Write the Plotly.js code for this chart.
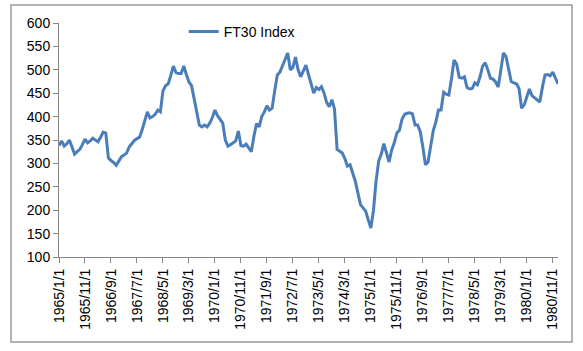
<!DOCTYPE html>
<html>
<head>
<meta charset="utf-8">
<script src="https://cdn.plot.ly/plotly-3.0.1.min.js"></script>
<style>html,body{margin:0;padding:0;background:#fff;}#chart{width:583px;height:351px;}</style>
</head>
<body>
<div id="chart"></div>
<script>
// Monthly FT30 Index values, 1965/1 .. 1981/1
const seriesName = "FT30 Index";
const values = [
  338,348,337,342,350,334,320,325,330,340,
  352,344,348,354,350,346,356,367,365,312,
  306,302,296,306,314,318,322,335,342,349,
  353,356,372,392,410,397,400,405,414,410,
  455,466,470,488,508,494,492,492,508,490,
  474,466,436,405,382,378,382,378,386,398,
  414,402,395,386,350,337,340,344,348,369,
  338,337,341,333,325,358,385,378,400,410,
  423,414,418,455,489,495,508,520,536,500,
  505,527,500,485,496,510,490,470,450,462,
  458,464,450,430,421,436,416,330,325,322,
  310,294,297,278,262,237,212,205,198,179,
  162,200,262,305,320,342,324,303,329,344,
  365,371,395,405,407,408,406,382,382,368,
  335,297,303,335,370,388,414,414,452,448,
  446,480,521,512,484,482,485,462,459,460,
  472,468,485,508,515,500,482,480,474,463,
  505,536,528,500,475,472,470,460,418,425,
  440,459,445,440,434,431,463,489,490,487,
  495,484,470
];
const startYear = 1965, startMonth = 1;
const tickLabels = ["1965/1/1","1965/11/1","1966/9/1","1967/7/1","1968/5/1","1969/3/1",
  "1970/1/1","1970/11/1","1971/9/1","1972/7/1","1973/5/1","1974/3/1","1975/1/1",
  "1975/11/1","1976/9/1","1977/7/1","1978/5/1","1979/3/1","1980/1/1","1980/11/1"];

const categories = values.map((v, i) => {
  const m = startMonth - 1 + i;
  return (startYear + Math.floor(m / 12)) + "/" + (m % 12 + 1) + "/1";
});

const font = {family: "Liberation Sans, Arial, sans-serif", size: 14, color: "#000"};
const axisGray = "#868686";

Plotly.newPlot("chart", [{
  type: "scatter", mode: "lines", name: seriesName,
  x: categories, y: values,
  line: {color: "#4a7ebb", width: 3},
  showlegend: true
}], {
  width: 583, height: 351,
  margin: {l: 59, r: 25, t: 23, b: 94},
  paper_bgcolor: "#fff", plot_bgcolor: "#fff",
  font: font,
  xaxis: {
    type: "category", range: [0, values.length - 1],
    tickmode: "array", tickvals: tickLabels, ticktext: tickLabels,
    tickangle: -90, ticks: "outside", ticklen: 5, tickcolor: axisGray,
    showline: true, linecolor: axisGray, linewidth: 1,
    showgrid: false, zeroline: false, tickfont: font
  },
  yaxis: {
    range: [100, 600], dtick: 50, tick0: 100,
    ticks: "outside", ticklen: 5, tickcolor: axisGray,
    showline: true, linecolor: axisGray, linewidth: 1,
    showgrid: false, zeroline: false, tickfont: font
  },
  legend: {x: 0.25, y: 0.9615, xanchor: "left", yanchor: "middle",
    bgcolor: "rgba(0,0,0,0)", font: font},
  shapes: [{type: "rect", xref: "paper", yref: "paper",
    x0: -0.0962, x1: 1.0281, y0: -0.3632, y1: 1.0769,
    line: {color: "#9a9a9a", width: 1.5}, fillcolor: "rgba(0,0,0,0)", layer: "below"}]
}, {displayModeBar: false, staticPlot: true});
</script>
</body>
</html>
